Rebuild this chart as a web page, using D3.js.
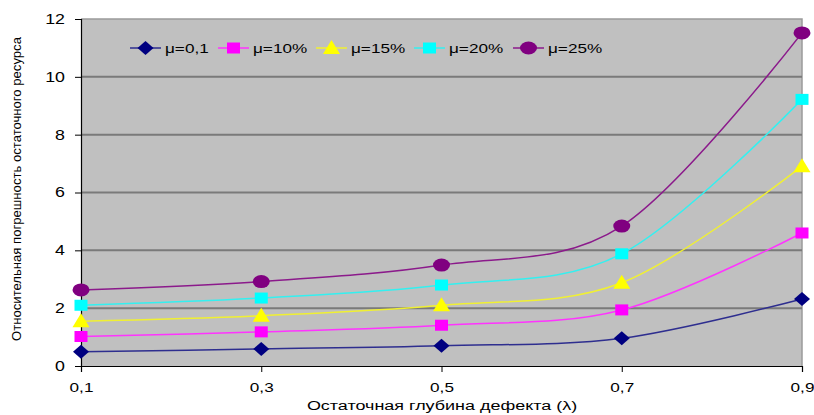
<!DOCTYPE html>
<html>
<head>
<meta charset="utf-8">
<script src="https://cdn.jsdelivr.net/npm/d3@7"></script>
<style>
  html, body { margin: 0; padding: 0; background: #fff; }
  svg text { font-family: "Liberation Sans", Arial, sans-serif; fill: #000; }
</style>
</head>
<body>
<svg id="chart" width="814" height="415"></svg>
<script>
// Residual defect depth (λ) categories
const categories = ["0,1", "0,3", "0,5", "0,7", "0,9"];

// Relative error of the residual resource for each μ
const seriesNames = ["μ=0,1", "μ=10%", "μ=15%", "μ=20%", "μ=25%"];
const mu01  = [0.49, 0.59, 0.70, 0.96, 2.32];
const mu10  = [1.02, 1.18, 1.41, 1.94, 4.60];
const mu15  = [1.55, 1.74, 2.10, 2.88, 6.91];
const mu20  = [2.10, 2.35, 2.80, 3.88, 9.22];
const mu25  = [2.63, 2.92, 3.49, 4.84, 11.52];
const yTicks = [0, 2, 4, 6, 8, 10, 12];

const colors  = ["#000080", "#ff00ff", "#ffff00", "#00ffff", "#800080"];
const lineCol = ["#2e2e8f", "#ff33ff", "#f0f032", "#33f0f0", "#8b1a8b"];
const shapes  = ["diamond", "square", "triangle", "square", "circle"];
const allSeries = [mu01, mu10, mu15, mu20, mu25];

const svg = d3.select("#chart");
const m = { left: 81, right: 802, top: 19, bottom: 366 };
const SX = 1.27; // horizontal text stretch

const x = d3.scalePoint().domain(categories).range([m.left, m.right]);
const y = d3.scaleLinear().domain([0, 12]).range([m.bottom, m.top]);

// plot area
svg.append("rect")
  .attr("x", m.left).attr("y", m.top)
  .attr("width", m.right - m.left).attr("height", m.bottom - m.top)
  .attr("fill", "#c0c0c0");
// top/right frame of plot area
svg.append("path")
  .attr("d", `M${m.left},${m.top}H${m.right}V${m.bottom}`)
  .attr("fill", "none").attr("stroke", "#9a9a9a").attr("stroke-width", 1.5);

// horizontal grid
svg.append("g").selectAll("line").data(yTicks.filter(d => d > 0 && d < 12)).join("line")
  .attr("x1", m.left).attr("x2", m.right)
  .attr("y1", d => y(d)).attr("y2", d => y(d))
  .attr("stroke", "#7a7a7a").attr("stroke-width", 2);

// y axis
const yAxis = svg.append("g").attr("transform", `translate(${m.left},0)`)
  .call(d3.axisLeft(y).tickValues(yTicks).tickSize(6).tickPadding(10).tickFormat(d3.format("d")));
yAxis.select(".domain").attr("stroke", "#000").attr("stroke-width", 1.2);
yAxis.selectAll(".tick line").attr("stroke", "#000");
yAxis.selectAll(".tick text")
  .attr("font-size", 14).attr("fill", "#000")
  .attr("transform", `scale(${SX},1)`)
  .attr("x", -16 / SX);

// x axis
const xAxis = svg.append("g").attr("transform", `translate(0,${m.bottom})`)
  .call(d3.axisBottom(x).tickSize(6).tickPadding(10));
xAxis.select(".domain").attr("stroke", "#000").attr("stroke-width", 1.2);
xAxis.selectAll(".tick line").attr("stroke", "#000");
xAxis.selectAll(".tick text")
  .attr("font-size", 13.5).attr("fill", "#000")
  .attr("transform", `scale(${SX},1)`);

// axis titles
svg.append("text")
  .attr("transform", `translate(442,410) scale(1.33,1)`)
  .attr("text-anchor", "middle").attr("font-size", 13.5)
  .text("Остаточная глубина дефекта (λ)");
svg.append("text")
  .attr("transform", "translate(21,189) rotate(-90) scale(1.05,0.95)")
  .attr("text-anchor", "middle").attr("font-size", 12.5)
  .text("Относительная погрешность остаточного ресурса");

// smooth lines
const line = d3.line()
  .x((d, i) => x(categories[i]))
  .y(d => y(d))
  .curve(d3.curveCatmullRom.alpha(0));

function drawMarker(g, shape, color, cx, cy) {
  if (shape === "diamond") {
    g.append("path").attr("d", `M${cx},${cy - 7}L${cx + 8},${cy}L${cx},${cy + 7}L${cx - 8},${cy}Z`).attr("fill", color);
  } else if (shape === "square") {
    g.append("rect").attr("x", cx - 6.5).attr("y", cy - 5.5).attr("width", 13).attr("height", 11).attr("fill", color);
  } else if (shape === "triangle") {
    g.append("path").attr("d", `M${cx},${cy - 8}L${cx + 8.5},${cy + 6}L${cx - 8.5},${cy + 6}Z`).attr("fill", color);
  } else {
    g.append("ellipse").attr("cx", cx).attr("cy", cy).attr("rx", 8.5).attr("ry", 6.5).attr("fill", color);
  }
}

allSeries.forEach((vals, s) => {
  const g = svg.append("g");
  g.append("path").datum(vals).attr("d", line)
    .attr("fill", "none").attr("stroke", lineCol[s]).attr("stroke-width", 1.5);
  vals.forEach((v, i) => drawMarker(g, shapes[s], colors[s], x(categories[i]), y(v)));
});

// legend
const legX = [130, 218, 316, 414, 513];
const legY = 48;
seriesNames.forEach((name, s) => {
  const g = svg.append("g");
  g.append("line").attr("x1", legX[s]).attr("x2", legX[s] + 31)
    .attr("y1", legY).attr("y2", legY).attr("stroke", lineCol[s]).attr("stroke-width", 1.5);
  drawMarker(g, shapes[s], colors[s], legX[s] + 15.5, legY);
  g.append("text")
    .attr("transform", `translate(${legX[s] + 35},${legY + 5}) scale(${SX},1)`)
    .attr("font-size", 13.5).text(name);
});
</script>
</body>
</html>
